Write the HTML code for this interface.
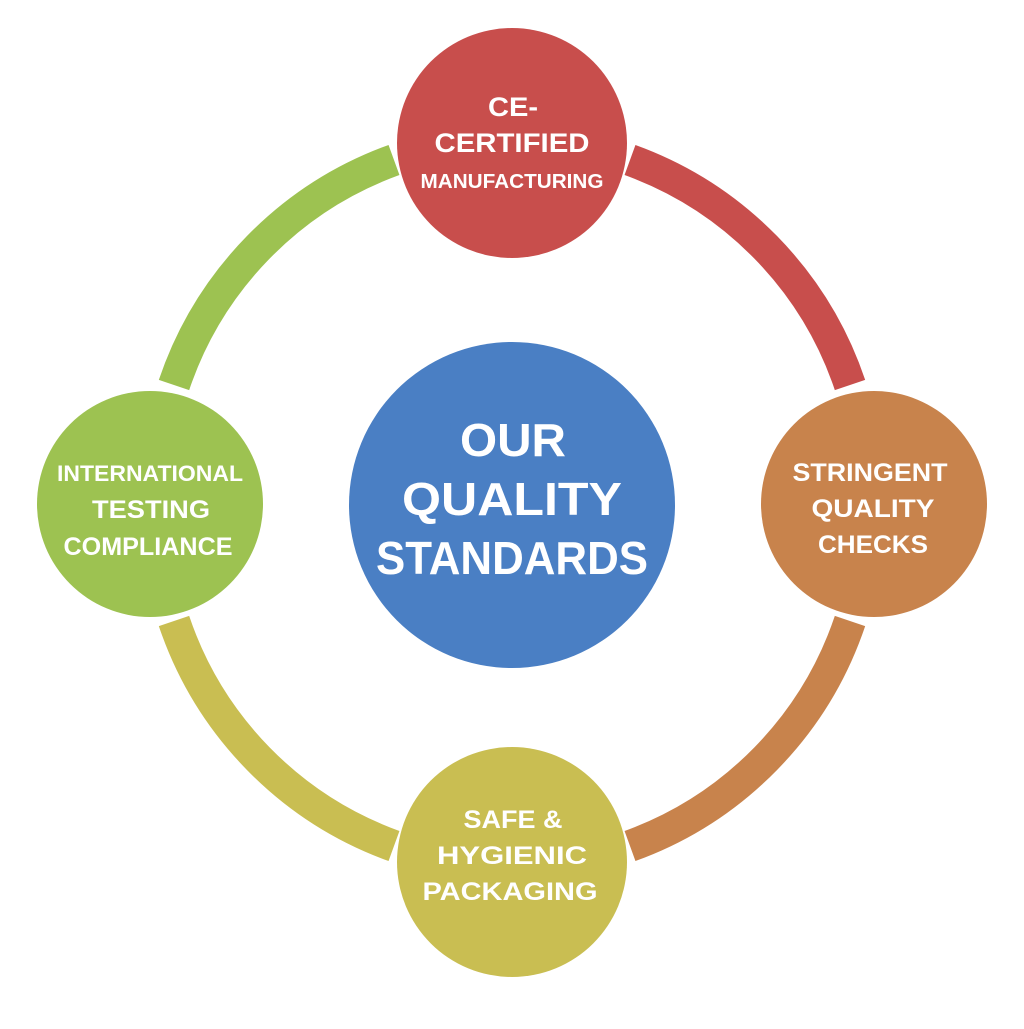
<!DOCTYPE html>
<html><head><meta charset="utf-8"><style>
html,body{margin:0;padding:0;background:#fff;}
text{font-family:"Liberation Sans",sans-serif;fill:#fff;text-anchor:middle;font-weight:bold;}
</style></head><body>
<svg width="1024" height="1024" viewBox="0 0 1024 1024" xmlns="http://www.w3.org/2000/svg">
<g fill="none" stroke-width="32" stroke-linecap="butt">
<path d="M 630 160 A 362 362 0 0 1 850 385" stroke="#C84E4C"/>
<path d="M 850 621 A 362 362 0 0 1 630 846" stroke="#C8834C"/>
<path d="M 394 846 A 362 362 0 0 1 174 621" stroke="#C9BE52"/>
<path d="M 174 385 A 362 362 0 0 1 394 160" stroke="#9DC251"/>
</g>
<circle cx="512" cy="505" r="163" fill="#4A7FC4"/>
<circle cx="512" cy="143" r="115" fill="#C84E4C"/>
<circle cx="874" cy="504" r="113" fill="#C8834C"/>
<circle cx="512" cy="862" r="115" fill="#C9BE52"/>
<circle cx="150" cy="504" r="113" fill="#9DC251"/>
<g font-size="46" lengthAdjust="spacingAndGlyphs">
<text x="513" y="456" textLength="106" lengthAdjust="spacingAndGlyphs">OUR</text>
<text x="512" y="515" textLength="220" lengthAdjust="spacingAndGlyphs">QUALITY</text>
<text x="512" y="574" textLength="272" lengthAdjust="spacingAndGlyphs">STANDARDS</text>
</g>
<g font-size="27">
<text x="513" y="116" textLength="50" lengthAdjust="spacingAndGlyphs">CE-</text>
<text x="512" y="152" textLength="155" lengthAdjust="spacingAndGlyphs">CERTIFIED</text>
<text x="512" y="188" font-size="20" textLength="183" lengthAdjust="spacingAndGlyphs">MANUFACTURING</text>
<text x="870" y="481" font-size="25" textLength="155" lengthAdjust="spacingAndGlyphs">STRINGENT</text>
<text x="873" y="517" font-size="25" textLength="123" lengthAdjust="spacingAndGlyphs">QUALITY</text>
<text x="873" y="553" font-size="25" textLength="110" lengthAdjust="spacingAndGlyphs">CHECKS</text>
<text x="513" y="828" font-size="25" textLength="99" lengthAdjust="spacingAndGlyphs">SAFE &amp;</text>
<text x="512" y="864" font-size="25" textLength="150" lengthAdjust="spacingAndGlyphs">HYGIENIC</text>
<text x="510" y="900" font-size="25" textLength="175" lengthAdjust="spacingAndGlyphs">PACKAGING</text>
<text x="150" y="481" font-size="22" textLength="186" lengthAdjust="spacingAndGlyphs">INTERNATIONAL</text>
<text x="151" y="518" font-size="25" textLength="118" lengthAdjust="spacingAndGlyphs">TESTING</text>
<text x="148" y="555" font-size="25" textLength="169" lengthAdjust="spacingAndGlyphs">COMPLIANCE</text>
</g>
</svg>
</body></html>
